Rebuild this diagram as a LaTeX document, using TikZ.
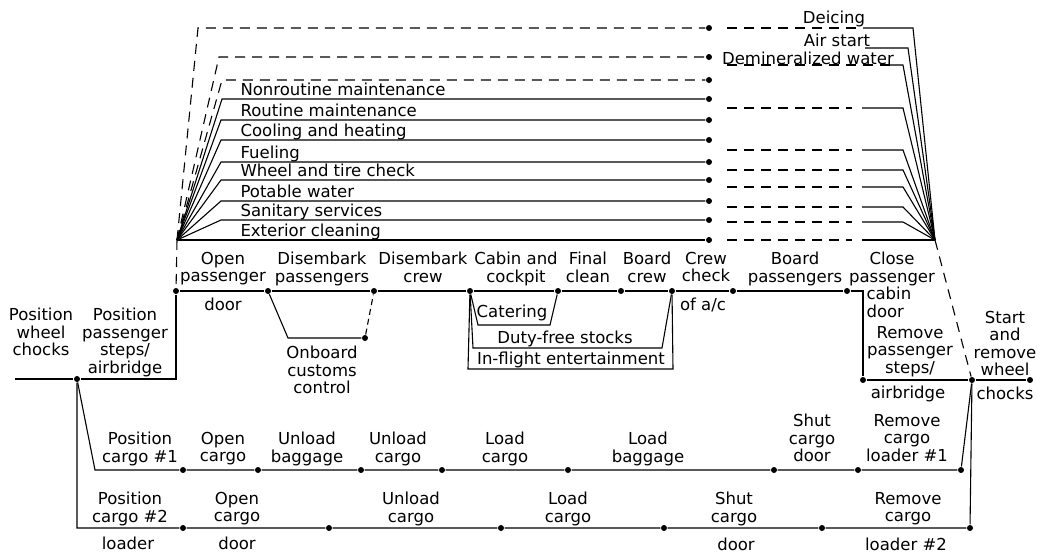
\documentclass[tikz,border=0pt]{standalone}
\usepackage{fontspec}
\setmainfont{DejaVu Sans}
\usetikzlibrary{calc}

\begin{document}
\begin{tikzpicture}[x=1pt, y=-1pt, line width=1.1pt,
    dot/.style={circle, fill=black, inner sep=0pt, minimum size=6pt},
    lbl/.style={align=center, inner sep=0pt, anchor=north, font=\fontsize{16.5}{17.5}\selectfont},
    dashln/.style={dash pattern=on 10pt off 7pt}]
    \useasboundingbox (0,0) rectangle (1037,552);

    \coordinate (lapex) at (177,240);
    \coordinate (rapex) at (935,240);

    \foreach \i/\y/\cx/\ls in {1/28/198/dashln, 2/57/219/dashln, 3/80/222/dashln, 4/99/222/solid,
        5/120/221/solid, 6/140/221/solid, 7/162/221/solid, 8/180/221/solid, 9/201/221/solid, 10/220/221/solid}{
        \node[dot] (s\i) at (709,\y) {};
        \coordinate (sl\i) at (\cx,\y);
        \draw[\ls] (lapex) -- (sl\i) -- (s\i);
    }
    \node[dot] (s11) at (709,240) {};
    \draw (lapex) -- (s11);

    \foreach \i/\y/\xd/\xs/\xc in {1/28/863/863/913, 3/65/890/890/903, 4/108/852/862/903, 5/150/852/862/903,
        6/170/852/862/903, 7/187/852/862/903, 8/207/852/862/903, 9/222/852/862/903}{
        \coordinate (ra\i) at (727,\y);
        \coordinate (rb\i) at (\xd,\y);
        \coordinate (rs\i) at (\xs,\y);
        \coordinate (rc\i) at (\xc,\y);
        \draw[dashln] (ra\i) -- (rb\i);
        \draw (rs\i) -- (rc\i) -- (rapex);
    }
    \coordinate (rs2) at (865,48);
    \coordinate (rc2) at (908,48);
    \draw (rs2) -- (rc2) -- (rapex);
    \coordinate (ra10) at (727,240);
    \coordinate (rb10) at (852,240);
    \coordinate (rs10) at (862,240);
    \draw[dashln] (ra10) -- (rb10);
    \draw (rs10) -- (rapex);

    \node[lbl] (deice) at (834,10.5) {Deicing};
    \node[lbl] (airst) at (837,33.5) {Air start};
    \node[lbl] (demin) at (808,51.5) {Demineralized water};

    \node[lbl, anchor=north west] (nrm) at (240,82.5) {Nonroutine maintenance};
    \node[lbl, anchor=north west] (rtm) at (240,103.5) {Routine maintenance};
    \node[lbl, anchor=north west] (cah) at (240,123.5) {Cooling and heating};
    \node[lbl, anchor=north west] (fue) at (240,145.5) {Fueling};
    \node[lbl, anchor=north west] (wtc) at (240,163.5) {Wheel and tire check};
    \node[lbl, anchor=north west] (ptw) at (240,184.5) {Potable water};
    \node[lbl, anchor=north west] (sns) at (240,203.5) {Sanitary services};
    \node[lbl, anchor=north west] (exc) at (240,223.5) {Exterior cleaning};

    \foreach \i/\x in {0/176, 1/268, 2/374, 3/470, 4/558, 5/621, 6/672, 7/733, 8/847}
        \node[dot] (p\i) at (\x,291) {};
    \draw (p0) -- (p1) -- (p2) -- (p3) -- (p4) -- (p5) -- (p6) -- (p7) -- (p8);

    \node[dot] (q1) at (863,380) {};
    \node[dot] (q2) at (972,380) {};
    \node[dot] (q3) at (1030,380) {};
    \draw (p8) -| (q1) -- (q2) -- (q3);
    \draw[dashln] (rapex) -- (q2);
    \draw[dashln] (lapex) -- (p0);

    \coordinate (w0) at (15,379);
    \node[dot] (w1) at (77,379) {};
    \draw (w0) -- (w1) -| (p0);

    \node[dot] (oc) at (365,338) {};
    \coordinate (ock) at (288,338);
    \draw (p1) -- (ock) -- (oc);
    \draw[dash pattern=on 6pt off 4pt] (oc) -- (p2);

    \coordinate (ca1) at (478,325);
    \coordinate (ca2) at (550,325);
    \draw (p3) -- (ca1) -- (ca2) -- (p4);
    \coordinate (df1) at (473,348);
    \coordinate (df2) at (662,348);
    \draw (p3) -- (df1) -- (df2) -- (p6);
    \coordinate (if1) at (468,369);
    \coordinate (if2) at (673,369);
    \draw (p3) -- (if1) -- (if2) -- (p6);

    \coordinate (k0) at (95,470);
    \foreach \i/\x in {1/183, 2/258, 3/361, 4/442, 5/568, 6/774, 7/858, 8/961}
        \node[dot] (k\i) at (\x,470) {};
    \draw (w1) -- (k0) -- (k1) -- (k2) -- (k3) -- (k4) -- (k5) -- (k6) -- (k7) -- (k8) -- (q2);

    \coordinate (g0) at (77,528);
    \foreach \i/\x in {1/183, 2/329, 3/501, 4/664, 5/822, 6/970}
        \node[dot] (g\i) at (\x,528) {};
    \draw (w1) -- (g0) -- (g1) -- (g2) -- (g3) -- (g4) -- (g5) -- (g6) -- (q2);

    \node[lbl] (opd) at (223,251.5) {Open\\passenger};
    \node[lbl] (opdb) at (223,297.5) {door};
    \node[lbl] (dsp) at (322,251.5) {Disembark\\passengers};
    \node[lbl] (dsc) at (423,251.5) {Disembark\\crew};
    \node[lbl] (cab) at (516,251.5) {Cabin and\\cockpit};
    \node[lbl] (fcl) at (588,251.5) {Final\\clean};
    \node[lbl] (bcr) at (647,251.5) {Board\\crew};
    \node[lbl] (ccx) at (706,251.5) {Crew\\check};
    \node[lbl] (ccxb) at (703,297.5) {of a/c};
    \node[lbl] (bps) at (795,251.5) {Board\\passengers};
    \node[lbl] (cpd) at (892,251.5) {Close\\passenger};
    \node[lbl, anchor=north west, align=left] (cpdb) at (866,286.5) {cabin\\door};

    \node[lbl] (pwc) at (41,307.5) {Position\\wheel\\chocks};
    \node[lbl] (pps) at (125,307.5) {Position\\passenger\\steps/\\airbridge};
    \node[lbl] (rps) at (910,325.5) {Remove\\passenger\\steps/};
    \node[lbl] (rpsb) at (908,385.5) {airbridge};
    \node[lbl] (ssw) at (1005,310.5) {Start\\and\\remove\\wheel};
    \node[lbl] (sswb) at (1005,386.5) {chocks};

    \node[lbl] (obc) at (322,345.5) {Onboard\\customs\\control};
    \node[lbl] (cat) at (512,304.5) {Catering};
    \node[lbl] (dfs) at (565,330.5) {Duty-free stocks};
    \node[lbl] (ife) at (571,351.5) {In-flight entertainment};

    \node[lbl] (pc1) at (140,431.5) {Position\\cargo \#1};
    \node[lbl] (oc1) at (223,431.5) {Open\\cargo};
    \node[lbl] (ubg) at (307,431.5) {Unload\\baggage};
    \node[lbl] (uc1) at (398,431.5) {Unload\\cargo};
    \node[lbl] (lc1) at (505,431.5) {Load\\cargo};
    \node[lbl] (lbg) at (648,431.5) {Load\\baggage};
    \node[lbl] (scd) at (812,413.5) {Shut\\cargo\\door};
    \node[lbl] (rc1) at (907,413.5) {Remove\\cargo\\loader \#1};

    \node[lbl] (pc2) at (130,491.5) {Position\\cargo \#2};
    \node[lbl] (pc2b) at (128,536.5) {loader};
    \node[lbl] (oc2) at (237,491.5) {Open\\cargo};
    \node[lbl] (oc2b) at (237,536.5) {door};
    \node[lbl] (uc2) at (411,491.5) {Unload\\cargo};
    \node[lbl] (lc2) at (568,491.5) {Load\\cargo};
    \node[lbl] (sc2) at (734,491.5) {Shut\\cargo};
    \node[lbl] (sc2b) at (736,537) {door};
    \node[lbl] (rc2) at (908,491.5) {Remove\\cargo};
    \node[lbl] (rc2b) at (906,537) {loader \#2};
\end{tikzpicture}
\end{document}
